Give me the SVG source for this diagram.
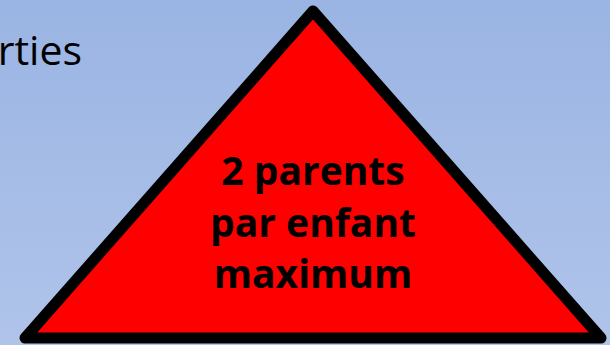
<svg xmlns="http://www.w3.org/2000/svg" width="610" height="345" viewBox="0 0 610 345">
  <defs>
    <linearGradient id="bg" x1="0" y1="0" x2="0" y2="1">
      <stop offset="0" stop-color="#9ab4e3"/>
      <stop offset="1" stop-color="#b0c4ea"/>
    </linearGradient>
    <style>
      .tri { fill: #ff0000; stroke: #000000; stroke-width: 11; stroke-linejoin: round; }
      .lbl { font-family: "Open Sans", "Liberation Sans", sans-serif; font-weight: bold; font-size: 39px; fill: #000000; text-anchor: middle; }
      .title { font-family: "Open Sans", "Liberation Sans", sans-serif; font-size: 41px; fill: #000000; text-anchor: end; }
    </style>
  </defs>
  <rect x="0" y="0" width="610" height="345" fill="url(#bg)"/>
  <text class="title" x="82" y="65">rties</text>
  <g id="triangle">
    <polygon class="tri" points="313,11 25,338 601,338"/>
    <text class="lbl" x="313" y="185">2 parents</text>
    <text class="lbl" x="313" y="237">par enfant</text>
    <text class="lbl" x="313" y="288">maximum</text>
  </g>
  <g id="connectors"/>
</svg>
